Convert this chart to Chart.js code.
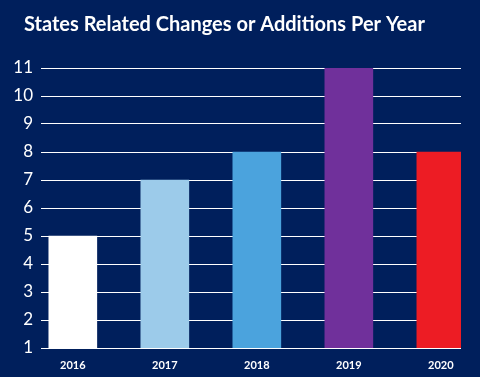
<!DOCTYPE html>
<html>
<head>
<meta charset="utf-8">
<script src="https://cdn.jsdelivr.net/npm/chart.js@4/dist/chart.umd.min.js"></script>
<style>
html,body{margin:0;padding:0;background:#001f5c;}
#wrap{width:480px;height:377px;}
</style>
</head>
<body>
<div id="wrap"><canvas id="c" width="480" height="377"></canvas></div>
<script>
const categories = ["2016", "2017", "2018", "2019", "2020"];
const values = [5, 7, 8, 11, 8];
const barColors = ["#ffffff", "#9ccbea", "#4ba3dd", "#70309b", "#ed1c24"];
const yTicks = [1, 2, 3, 4, 5, 6, 7, 8, 9, 10, 11];
const titleText = "States Related Changes or Additions Per Year";

const points = values.map((v, i) => ({x: i, y: v}));

const titlePlugin = {
  id: "leftTitle",
  afterDraw(chart) {
    const ctx = chart.ctx;
    ctx.save();
    ctx.fillStyle = "#ffffff";
    ctx.font = "bold 20px Lato";
    ctx.textAlign = "left";
    ctx.textBaseline = "alphabetic";
    ctx.fillText(titleText, 24, 31);
    ctx.restore();
  }
};

new Chart(document.getElementById("c"), {
  type: "bar",
  data: {
    datasets: [{
      data: points,
      backgroundColor: barColors,
      borderWidth: 0,
      barThickness: 48
    }]
  },
  plugins: [titlePlugin],
  options: {
    responsive: false,
    animation: false,
    devicePixelRatio: 1,
    layout: {padding: {left: 0, right: 19, top: 68, bottom: 0}},
    plugins: {
      legend: {display: false},
      tooltip: {enabled: false},
      title: {display: false}
    },
    scales: {
      x: {
        type: "linear",
        offset: false,
        min: -0.3457,
        max: 4.219,
        afterBuildTicks: (s) => { s.ticks = categories.map((c, i) => ({value: i})); },
        afterFit: (s) => { s.height = 29; s.paddingLeft = 0; s.paddingRight = 0; },
        ticks: {
          color: "#ffffff",
          font: {family: "Lato", size: 11, weight: "bold"},
          padding: 11,
          maxRotation: 0,
          callback: (v) => categories[v]
        },
        grid: {display: false, drawTicks: false},
        border: {display: false}
      },
      y: {
        min: 1,
        max: 11,
        afterBuildTicks: (s) => { s.ticks = yTicks.map(v => ({value: v})); },
        afterFit: (s) => { s.width = 41; s.paddingTop = 0; s.paddingBottom = 0; },
        ticks: {
          color: "#ffffff",
          font: {family: "Lato", size: 17},
          padding: 8
        },
        grid: {color: "#ffffff", lineWidth: 1, drawTicks: false},
        border: {display: false}
      }
    }
  }
});
</script>
</body>
</html>
